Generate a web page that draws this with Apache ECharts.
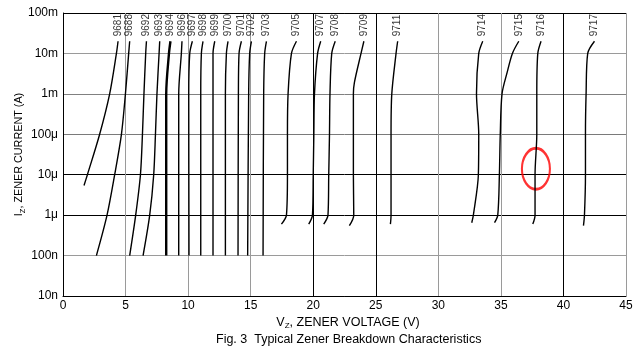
<!DOCTYPE html>
<html>
<head>
<meta charset="utf-8">
<script src="https://cdn.jsdelivr.net/npm/echarts@6/dist/echarts.min.js"></script>
<style>
html,body{margin:0;padding:0;background:#fff;}
#main{width:638px;height:353px;}
</style>
</head>
<body>
<div id="main"></div>
<script>
// tick labels
var xTicks = [0, 5, 10, 15, 20, 25, 30, 35, 40, 45];
var yTickLabels = ['10n', '100n', '1\u03bc', '10\u03bc', '100\u03bc', '1m', '10m', '100m'];

// breakdown curves, [Vz (V), Iz (A)], read bottom to top
var c9681 = [[1.68, 5.4e-6], [1.95, 1e-5], [2.93, 1e-4], [3.73, 1e-3], [4.27, 1e-2], [4.40, 2e-2]];
var c9688 = [[2.67, 1e-7], [3.52, 1e-6], [4.13, 1e-5], [4.67, 1e-4], [4.99, 1e-3], [5.25, 1e-2], [5.33, 2e-2]];
var c9692 = [[5.33, 1e-7], [5.81, 1e-6], [6.19, 1e-5], [6.35, 1e-4], [6.47, 1e-3], [6.61, 1e-2], [6.67, 2e-2]];
var c9693 = [[6.40, 1e-7], [6.93, 1e-6], [7.25, 1e-5], [7.39, 1e-4], [7.51, 1e-3], [7.68, 1e-2], [7.73, 2e-2]];
var c9694 = [[8.25, 1e-7], [8.25, 1e-3], [8.47, 1e-2], [8.59, 2e-2]];
var c9696 = [[9.25, 1e-7], [9.25, 1e-3], [9.46, 1e-2], [9.51, 2e-2]];
var c9697 = [[10.07, 1e-7], [10.05, 1e-3], [10.13, 1e-2], [10.34, 2e-2]];
var c9698 = [[11.01, 1e-7], [11.01, 1e-3], [11.06, 1e-2], [11.19, 2e-2]];
var c9699 = [[11.99, 1e-7], [11.99, 1e-3], [11.99, 1e-2], [12.13, 2e-2]];
var c9700 = [[12.98, 1e-7], [12.98, 1e-3], [13.06, 1e-2], [13.19, 2e-2]];
var c9701 = [[13.99, 1e-7], [14.02, 1e-3], [14.07, 1e-2], [14.26, 2e-2]];
var c9702 = [[14.76, 1e-7], [14.84, 1e-3], [14.92, 1e-2], [15.06, 2e-2]];
var c9703 = [[15.99, 1e-7], [16.04, 1e-3], [16.12, 1e-2], [16.26, 2e-2]];
var c9705 = [[17.46, 6e-7], [17.86, 1e-6], [17.94, 1e-5], [17.94, 1e-4], [17.99, 1e-3], [18.26, 1e-2], [18.66, 2e-2]];
var c9707 = [[19.64, 6e-7], [19.94, 1e-6], [20.0, 1e-5], [20.05, 1e-4], [20.1, 1e-3], [20.35, 1e-2], [20.6, 2e-2]];
var c9708 = [[20.84, 6e-7], [21.18, 1e-6], [21.24, 1e-5], [21.30, 1e-4], [21.34, 1e-3], [21.48, 1e-2], [21.76, 2e-2]];
var c9709 = [[22.89, 5.5e-7], [23.24, 1e-6], [23.21, 1e-5], [23.21, 1e-4], [23.21, 1e-3], [23.29, 1.9e-3], [23.82, 1e-2], [24.05, 2e-2]];
var c9711 = [[26.17, 6e-7], [26.22, 1e-6], [26.22, 1e-5], [26.22, 1e-4], [26.28, 1e-3], [26.62, 1e-2], [26.75, 2e-2]];
var c9714 = [[32.67, 6.5e-7], [32.8, 1e-6], [33.2, 1e-5], [33.23, 1e-4], [33.05, 1e-3], [33.23, 1e-2], [33.55, 2e-2]];
var c9715 = [[34.49, 6.5e-7], [34.75, 1e-6], [34.88, 1e-5], [34.95, 1e-4], [35.09, 1e-3], [35.49, 3.3e-3], [35.92, 1e-2], [36.43, 2e-2]];
var c9716 = [[37.55, 6e-7], [37.73, 1e-6], [37.73, 1e-5], [37.87, 1e-4], [37.87, 1e-3], [37.95, 1e-2], [38.21, 2e-2]];
var c9717 = [[41.6, 5.5e-7], [41.68, 1e-6], [41.76, 1e-5], [41.76, 1e-4], [41.81, 1e-3], [41.94, 1e-2], [42.48, 2e-2]];

var curves = [
    ['9681', c9681], ['9688', c9688], ['9692', c9692], ['9693', c9693], ['9694', c9694],
    ['9696', c9696], ['9697', c9697], ['9698', c9698], ['9699', c9699], ['9700', c9700],
    ['9701', c9701], ['9702', c9702], ['9703', c9703], ['9705', c9705], ['9707', c9707],
    ['9708', c9708], ['9709', c9709], ['9711', c9711], ['9714', c9714], ['9715', c9715],
    ['9716', c9716], ['9717', c9717]
];

// red annotation ring
var highlight = [[37.8, 1.4e-5]];

var FONT = '"Liberation Sans", Arial, sans-serif';
var myChart = echarts.init(document.getElementById('main'));

var series = curves.map(function (c) {
    return {
        name: c[0],
        type: 'line',
        data: c[1],
        showSymbol: false,
        symbol: 'none',
        smooth: 0.3,
        silent: true,
        animation: false,
        lineStyle: {color: '#000', width: c[0] === '9694' ? 2.4 : 1.4}
    };
});

// part numbers above each curve top
series.push({
    type: 'scatter',
    silent: true,
    animation: false,
    symbolSize: 0,
    data: curves.map(function (c) {
        var top = c[1][c[1].length - 1];
        return {name: c[0], value: top};
    }),
    label: {
        show: true,
        formatter: function (p) { return p.name; },
        position: 'top',
        distance: 3,
        offset: [2, 0],
        rotate: 90,
        align: 'left',
        verticalAlign: 'middle',
        fontSize: 10,
        fontFamily: FONT,
        color: '#000'
    }
});

series.push({
    type: 'scatter',
    silent: true,
    animation: false,
    symbol: 'circle',
    symbolSize: [28, 41],
    data: highlight,
    itemStyle: {color: 'rgba(0,0,0,0)', borderColor: '#ff0000', borderWidth: 2.5}
});

var option = {
    animation: false,
    title: {
        text: 'Fig. 3  Typical Zener Breakdown Characteristics',
        left: 211,
        top: 328,
        textStyle: {fontSize: 12.5, fontWeight: 'normal', fontFamily: FONT, color: '#000'}
    },
    grid: {left: 63, top: 13, width: 563, height: 283, outerBoundsMode: 'none'},
    xAxis: {
        type: 'value',
        min: 0,
        max: 45,
        interval: 5,
        name: '{i|V}{s|Z}{i|, ZENER VOLTAGE (V)}',
        nameLocation: 'middle',
        nameGap: 19,
        nameMoveOverlap: false,
        nameTextStyle: {
            padding: [0, 0, 0, 7],
            rich: {
                i: {fontSize: 12.5, fontFamily: FONT, color: '#000'},
                s: {fontSize: 8, fontFamily: FONT, color: '#000', padding: [7, 0, 0, 0]}
            }
        },
        axisLine: {lineStyle: {color: '#000', width: 1}},
        axisTick: {show: false},
        axisLabel: {
            fontSize: 12, fontFamily: FONT, color: '#000', margin: 4,
            formatter: function (v) { return xTicks.indexOf(v) >= 0 ? String(v) : ''; }
        },
        splitLine: {
            show: true,
            lineStyle: {
                width: 1,
                color: ['#000', '#9a9a9a', '#9a9a9a', '#9a9a9a', '#000', '#000', '#9a9a9a', '#9a9a9a', '#000', '#9a9a9a']
            }
        }
    },
    yAxis: {
        type: 'log',
        logBase: 10,
        min: 1e-8,
        max: 1e-1,
        name: '{i|I}{s|Z}{i|, ZENER CURRENT (A)}',
        nameLocation: 'middle',
        nameGap: 36,
        nameMoveOverlap: false,
        nameTextStyle: {
            rich: {
                i: {fontSize: 10.8, fontFamily: FONT, color: '#000'},
                s: {fontSize: 7.5, fontFamily: FONT, color: '#000', padding: [7, 0, 0, 0]}
            }
        },
        axisLine: {show: true, lineStyle: {color: '#000', width: 1}},
        axisTick: {show: false},
        axisLabel: {
            fontSize: 12, fontFamily: FONT, color: '#000', margin: 5,
            formatter: function (v) {
                var k = Math.round(Math.log10(v)) + 8;
                return yTickLabels[k] || '';
            }
        },
        splitLine: {
            show: true,
            lineStyle: {
                width: 1,
                color: ['#000', '#9a9a9a', '#000', '#000', '#7a7a7a', '#808080', '#9a9a9a', '#000']
            }
        }
    },
    series: series
};

myChart.setOption(option, true);
</script>
</body>
</html>
